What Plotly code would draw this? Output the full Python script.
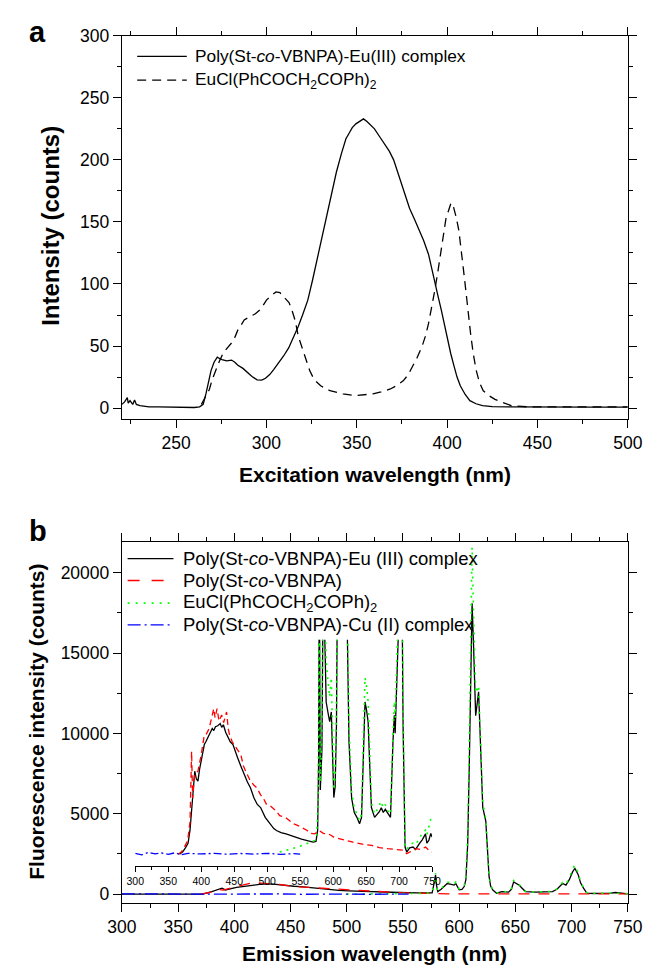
import plotly.graph_objects as go

# ---------------- Panel a : excitation spectra ----------------
exc_nm_eu_poly = [220, 221.5, 223, 223.5, 224.5, 226, 227, 228, 230, 232, 235, 240, 250, 260, 263, 265,
                  266.6, 268, 269.3, 271, 272.8, 274, 275.4, 278, 280.7, 282.5, 284.2, 287, 289.5, 292,
                  294.8, 297.4, 299.5, 301.8, 304, 307, 309.5, 312.3, 315, 317.6, 320, 322.9, 325.5, 328.2,
                  331, 333.5, 336, 338.7, 341.5, 344, 346, 347.5, 349.5, 351.5, 353.7, 355.5, 357.5, 359.8,
                  362.5, 365.1, 368, 370.4, 372, 373.9, 376.5, 379.2, 382, 384.5, 387, 389.7, 391.5, 393.2,
                  395, 396.8, 398.5, 400.3, 402, 403.8, 405.5, 407.3, 410, 412.6, 416, 419.6, 425, 433.7,
                  446, 460, 480, 500]
exc_eu_poly = [3, 5, 8.5, 4, 6, 3, 6.5, 3, 2, 1.5, 1, 1, 0.5, 0.5, 1, 3,
               12, 22, 30, 37, 41, 40, 39, 38, 38.7, 37, 34.5, 32, 28.6, 25.5,
               22.8, 22.5, 24, 27, 31, 36.6, 42, 48.5, 57, 65.8, 75, 87, 103, 121,
               140, 156, 173, 190, 205, 217, 222, 226, 229, 231, 233, 231, 228, 225,
               219, 213, 207, 200, 193, 185, 173, 161, 152, 144, 135, 124, 112, 100,
               90, 79, 67, 55, 44, 34, 25, 18, 11, 6, 3.5, 2, 1.2, 1,
               0.8, 0.8, 0.8, 0.8]

exc_nm_eucl = [264, 266, 268.4, 270, 271.9, 274, 276.3, 278.5, 280.7, 282.5, 284.2, 286, 287.7, 290,
               293.9, 297, 300, 303, 305.3, 307.5, 309, 310.6, 312.5, 314.1, 316, 317.6, 320, 322, 324,
               326.4, 330, 335.2, 342.3, 349.3, 354.6, 359, 363.4, 368.6, 372, 375.7, 378.5, 381, 383.5,
               386.2, 388, 389.7, 391.5, 393.2, 395, 396.8, 398, 399.4, 401, 402.1, 403, 403.8, 405,
               406.5, 408, 409.1, 410.5, 411.7, 413, 414.4, 416, 417.9, 420, 423.2, 426.5, 430.2, 435.5,
               445, 460, 480, 500]
exc_eucl = [3, 8, 15, 23, 31, 38, 45, 49, 52.5, 57, 63, 67, 71, 73,
            76, 80, 87, 91, 93.6, 93, 90, 88, 85, 79, 70, 58, 48, 38, 30,
            23, 18, 14, 11.4, 10, 10.6, 11.5, 13, 15.4, 18, 22, 27, 34, 41,
            50, 58, 68, 81, 95, 111, 127, 140, 153, 160, 165, 165, 161, 154,
            143, 127, 111, 93, 76, 60, 44.6, 31, 20.7, 14, 10, 7, 4.8, 2,
            1, 1, 1, 1]

# ---------------- Panel b : emission spectra (main) ----------------
em_nm_eu_poly = [300, 320, 340, 360, 372, 380, 385, 389, 392, 396, 402, 410.6, 418, 425.8, 434.8, 441,
                 447, 453, 459, 465, 471, 478, 486, 493, 501.5, 515, 531.8, 547, 562, 572, 576, 577.5,
                 579, 580, 581, 584, 587, 589.4, 592, 595.5, 597, 600, 602.5, 604.5, 606, 607.6, 609,
                 610.2, 611.5, 612.8, 614.7, 617.3, 619, 621, 623.7, 625, 626.6, 628, 630, 633.3, 638,
                 644, 646.5, 648.5, 651.5, 653.5, 656, 659, 668, 675, 683, 687, 689, 692, 695, 698, 701,
                 703, 706, 708, 710.6, 713.6, 720, 728.7, 735, 739, 745, 750]
em_eu_poly = [0, 0, 0, 0, 0, 150, 300, 370, 260, 330, 420, 500, 580, 640, 620, 560,
              510, 490, 470, 420, 370, 310, 260, 230, 200, 160, 120, 100, 80, 65, 80, 600,
              1200, 500, 160, 300, 500, 660, 620, 560, 660, 270, 300, 470, 900, 3100, 8000,
              12500, 18100, 15500, 11100, 12600, 9500, 5400, 4550, 3000, 1100, 500, 250, 60, 160,
              120, 300, 760, 660, 550, 370, 160, 120, 140, 160, 300, 470, 660, 560, 900, 1400,
              1600, 1190, 700, 370, 60, 40, 40, 60, 100, 40, 20]

em_nm_poly = [370, 378, 385, 390, 395, 405, 416.6, 424, 431.8, 440, 456, 470, 486, 500, 516.6, 530,
              541, 552, 562, 575, 590, 610, 640, 680, 720, 750]
em_poly = [0, 100, 300, 250, 350, 500, 720, 680, 640, 600, 460, 400, 330, 260, 180, 140,
           110, 80, 60, 30, 20, 10, 10, 10, 10, 10]

em_nm_eucl = [500, 540, 570, 576, 577.5, 579, 580, 581, 584, 587, 589.4, 592, 595.5, 597, 600, 602.5,
              604.5, 606, 607.6, 609, 610.2, 611.5, 612.8, 614.7, 617.3, 619, 621, 623.7, 625, 626.6,
              628, 630, 633.3, 638, 644, 646.5, 648.5, 651.5, 653.5, 656, 659, 668, 675, 683, 687,
              689, 692, 695, 698, 701, 703, 706, 708, 710.6, 713.6, 720, 735, 750]
em_eucl = [0, 20, 50, 100, 700, 1300, 500, 200, 350, 550, 750, 700, 620, 750, 320, 350,
           550, 1100, 3800, 9500, 15000, 21600, 17500, 12500, 13000, 9800, 5700, 4700, 3100, 1200,
           550, 260, 70, 170, 130, 350, 850, 720, 600, 400, 170, 130, 150, 170, 330,
           520, 720, 610, 1000, 1600, 1800, 1300, 750, 400, 70, 50, 70, 30]

em_nm_cu = [300, 320, 340, 360, 380, 400, 420, 440, 460, 480, 500, 520, 540, 555]
em_cu = [10, -10, 10, 0, 10, -10, 0, 10, -10, 10, 0, -10, 10, 0]

# ---------------- Inset (magnified emission spectra) ----------------
ins_nm_eu_poly = [367, 372, 376, 380, 383, 385.5, 387.8, 390.2, 392.5, 395, 397.5, 399.9, 402, 404.7, 407,
                  409.5, 413, 416.7, 419, 421.6, 425, 428.8, 431, 433.6, 437, 440.9, 444, 448.1, 452,
                  455.3, 460, 465, 470, 474.6, 480, 485, 490, 497, 504.5, 510, 514, 521, 528.6, 536,
                  543, 552, 562, 569.5, 574, 576.5, 578, 579, 580.5, 583, 585, 587, 589.4, 592.8, 594.7,
                  597.2, 599, 601, 603, 605, 607, 612, 618, 621, 624, 628, 632, 636, 640, 643, 645,
                  648.3, 650.5, 653, 655, 658, 662.8, 667, 670, 673, 676, 679, 683, 686.9, 690.7, 692.7,
                  694, 696, 699, 703.7, 706, 707.5, 709, 711.5, 716, 721, 725, 730.7, 735, 740, 742,
                  745, 748, 750]
ins_eu_poly = [0, 150, 400, 680, 1500, 2900, 3800, 5170, 4700, 4550, 5300, 5780, 6400, 6830, 7000,
               7220, 7600, 7830, 7700, 7940, 8000, 8140, 7900, 8060, 7600, 7220, 7000, 6830, 6300,
               5990, 5500, 4960, 4500, 4140, 3500, 3100, 2910, 2300, 1890, 1600, 1480, 1350, 1270, 1150,
               1070, 950, 860, 760, 800, 1500, 6000, 18000, 4000, 6500, 18000, 14000, 9480, 8670, 8250,
               8860, 6000, 3530, 4200, 8000, 20000, 40000, 26000, 15000, 7000, 3500, 2600, 2300, 1900, 2300, 5000,
               9480, 9000, 8250, 6000, 2910, 2300, 2500, 2650, 2900, 2600, 2800, 2500, 2300, 7020, 8650,
               7530, 11000, 20000, 20000, 8000, 2500, 450, 140, 400, 450, 300, 660, 900, 1270, 700,
               860, 1300, 1070]

ins_nm_poly = [365, 369.8, 374, 379.4, 383, 385.4, 387, 390, 395, 400, 404.7, 408, 412, 416, 419, 421,
               424, 427, 431, 434, 438.4, 441, 443, 447, 450.5, 455, 460, 464, 467.4, 471, 474.6, 480,
               484.3, 490, 494, 498.8, 505, 513.2, 519, 527.7, 533.4, 540, 546, 552.7, 560, 566, 572,
               579, 585, 591, 596, 600.8, 610, 620, 630, 639, 648, 658.6, 670, 682.6, 695, 706.7,
               711.5, 718, 726, 733, 740, 745, 750]
ins_poly = [0, 140, 400, 860, 2000, 6400, 3500, 5000, 5170, 6200, 7440, 7500, 7830, 8500, 9060, 8500,
            9060, 8300, 8670, 8200, 8860, 7800, 7430, 7000, 6810, 6500, 6200, 5500, 5170, 4800, 4550, 4300,
            4140, 3700, 3500, 3120, 3000, 2710, 2400, 2300, 2090, 1900, 1800, 1680, 1500, 1300, 1270,
            1480, 1300, 1270, 1200, 1070, 950, 860, 750, 660, 600, 550, 420, 350, 300, 250,
            40, 200, 350, 300, 450, 250, 140]

ins_nm_eucl = [519, 530, 540, 550, 560, 572, 575, 577, 578, 579, 580.5, 583, 585, 587, 589.4, 592.8,
               594.7, 597.2, 599, 601, 603, 605, 607, 612, 618, 621, 624, 628, 632, 636, 640, 643, 645,
               648.3, 650.5, 653, 655, 658, 662.8, 667, 670, 672, 676, 679, 683, 686.9, 690.7, 692.7,
               694, 696, 699, 703.7, 706, 707.5, 709, 711.5, 716, 721, 725, 730.7, 735, 740, 742, 745,
               748, 750]
ins_eucl = [140, 250, 380, 500, 650, 860, 1200, 3000, 8000, 20000, 4500, 7500, 20000, 16000, 12000, 10500,
            9800, 11000, 7000, 4000, 4800, 9000, 22000, 45000, 30000, 17000, 8000, 3900, 2900, 2500, 2100, 2500, 5800,
            11000, 10500, 9500, 7000, 3200, 2500, 2800, 3000, 3300, 2900, 3100, 2700, 2500, 7800, 9500,
            8500, 12500, 22000, 22000, 9000, 3000, 600, 300, 600, 700, 600, 1000, 1300, 1500, 1200, 1700,
            2200, 1900]

ins_nm_cu = [300, 310, 320, 330, 340, 350, 360, 370, 380, 400, 420, 440, 460, 480, 500, 520, 540, 550]
ins_cu = [60, -40, 120, 20, 80, 0, 90, -30, 60, 20, 60, 0, 50, 10, 60, 0, 40, 10]

# ---------------- labels ----------------
name_a1 = "Poly(St-<i>co</i>-VBNPA)-Eu(III) complex"
name_a2 = "EuCl(PhCOCH<sub>2</sub>COPh)<sub>2</sub>"
name_b1 = "Poly(St-<i>co</i>-VBNPA)-Eu (III) complex"
name_b2 = "Poly(St-<i>co</i>-VBNPA)"
name_b3 = "EuCl(PhCOCH<sub>2</sub>COPh)<sub>2</sub>"
name_b4 = "Poly(St-<i>co</i>-VBNPA)-Cu (II) complex"

FONT = "Liberation Sans, Arial, Helvetica, sans-serif"
W, H = 659, 966


def px(x):
    return x / W


def py(y):
    return 1 - y / H


BLACK = "#000000"
RED = "#ff0000"
GREEN = "#00ff00"
BLUE = "#0000ff"
LW = 1.3

DASH_A2 = "9px,6px"
DASH_RED = "11px,9px"
DASH_GREEN = "2px,6px"
DASH_BLUE = "13px,4px,2px,4px"

fig = go.Figure()

# panel a
fig.add_trace(go.Scatter(x=exc_nm_eu_poly, y=exc_eu_poly, mode="lines", name=name_a1,
                         line=dict(color=BLACK, width=LW), xaxis="x", yaxis="y", showlegend=False))
fig.add_trace(go.Scatter(x=exc_nm_eucl, y=exc_eucl, mode="lines", name=name_a2,
                         line=dict(color=BLACK, width=LW, dash=DASH_A2), xaxis="x", yaxis="y",
                         showlegend=False))

# panel b main
styles_b = [
    (em_nm_eu_poly, em_eu_poly, name_b1, dict(color=BLACK, width=LW)),
    (em_nm_poly, em_poly, name_b2, dict(color=RED, width=LW, dash=DASH_RED)),
    (em_nm_eucl, em_eucl, name_b3, dict(color=GREEN, width=LW + 0.3, dash=DASH_GREEN)),
    (em_nm_cu, em_cu, name_b4, dict(color=BLUE, width=LW, dash=DASH_BLUE)),
]
for xs, ys, nm, ln in styles_b:
    fig.add_trace(go.Scatter(x=xs, y=ys, mode="lines", name=nm, line=ln,
                             xaxis="x2", yaxis="y2", showlegend=False))

# inset
styles_i = [
    (ins_nm_eu_poly, ins_eu_poly, name_b1, dict(color=BLACK, width=LW)),
    (ins_nm_poly, ins_poly, name_b2, dict(color=RED, width=LW, dash="6px,4px")),
    (ins_nm_eucl, ins_eucl, name_b3, dict(color=GREEN, width=LW + 0.3, dash="2px,5px")),
    (ins_nm_cu, ins_cu, name_b4, dict(color=BLUE, width=LW, dash="8px,3px,2px,3px")),
]
for xs, ys, nm, ln in styles_i:
    fig.add_trace(go.Scatter(x=xs, y=ys, mode="lines", name=nm, line=ln, showlegend=False,
                             xaxis="x3", yaxis="y3"))

TICK_SIZE = 17.5
tickfont = dict(family=FONT, size=TICK_SIZE, color="black")


def main_axis(rng, dtick, mdtick, domain, anchor):
    return dict(range=rng, dtick=dtick, domain=domain, anchor=anchor,
                showline=True, linecolor="black", linewidth=1.2, mirror="ticks",
                ticks="outside", ticklen=8, tickwidth=1.2, tickcolor="black",
                showgrid=False, zeroline=False, tickfont=tickfont, tickformat="d",
                minor=dict(dtick=mdtick, ticks="outside", ticklen=4, tickwidth=1.2,
                           tickcolor="black", showgrid=False),
                fixedrange=True)


xa_dom = [px(112), px(642)]
fig.update_layout(
    width=W, height=H,
    margin=dict(l=0, r=0, t=0, b=0),
    paper_bgcolor="white",
    plot_bgcolor="rgba(0,0,0,0)",
    font=dict(family=FONT, color="black"),
    xaxis=main_axis([220, 500], 50, 25, xa_dom, "y"),
    yaxis=main_axis([-9, 300], 50, 25, [py(414), py(26)], "x"),
    xaxis2=main_axis([300, 750], 50, 25, xa_dom, "y2"),
    yaxis2=main_axis([-535, 21926], 5000, 2500, [py(903), py(538)], "x2"),
    xaxis3=dict(range=[300, 750], dtick=50, domain=[px(126), px(437)], anchor="y3",
                showline=True, linecolor="black", linewidth=1, mirror=False,
                ticks="outside", ticklen=5, tickwidth=1, tickcolor="black",
                showgrid=False, zeroline=False,
                tickfont=dict(family=FONT, size=10.5, color="black"),
                minor=dict(dtick=25, ticks="outside", ticklen=3, tickwidth=1,
                           tickcolor="black", showgrid=False),
                fixedrange=True),
    yaxis3=dict(range=[-738, 13354], domain=[py(866), py(637)], anchor="x3",
                visible=False, fixedrange=True),
    showlegend=False,
)

# ---- key (legend) boxes drawn as line samples + labels ----
legend_a = [
    (name_a1, dict(color=BLACK, width=LW), 47),
    (name_a2, dict(color=BLACK, width=LW, dash=DASH_A2), 71),
]
legend_b = [
    (name_b1, dict(color=BLACK, width=LW), 555),
    (name_b2, dict(color=RED, width=LW + 0.2, dash="12px,12px"), 577),
    (name_b3, dict(color=GREEN, width=LW + 0.6, dash=DASH_GREEN), 600),
    (name_b4, dict(color=BLUE, width=LW, dash=DASH_BLUE), 622),
]
shapes = []
annots = []
for items, x0, x1, xt, fs in [(legend_a, 128, 180, 186, 17.3), (legend_b, 118, 166, 174, 18.5)]:
    for label, ln, yrow in items:
        shapes.append(dict(type="line", xref="paper", yref="paper", x0=px(x0), x1=px(x1),
                           y0=py(yrow), y1=py(yrow), line=ln))
        annots.append(dict(text=label, x=px(xt), y=py(yrow), xanchor="left", yanchor="middle",
                           font=dict(family=FONT, size=fs, color="black")))

title_font = dict(family=FONT, size=21, color="black")
annots += [
    dict(text="<b>a</b>", x=px(24), y=py(22), xanchor="center", yanchor="middle",
         font=dict(family=FONT, size=29, color="black")),
    dict(text="<b>b</b>", x=px(24), y=py(527), xanchor="center", yanchor="middle",
         font=dict(family=FONT, size=29, color="black")),
    dict(text="<b>Excitation wavelength (nm)</b>", x=px(377), y=py(470), xanchor="center",
         yanchor="middle", font=title_font),
    dict(text="<b>Emission wavelength (nm)</b>", x=px(377), y=py(954), xanchor="center",
         yanchor="middle", font=title_font),
    dict(text="<b>Intensity (counts)</b>", x=px(37), y=py(218), textangle=-90,
         xanchor="center", yanchor="middle", font=dict(family=FONT, size=24, color="black")),
    dict(text="<b>Fluorescence intensity (counts)</b>", x=px(23), y=py(720), textangle=-90,
         xanchor="center", yanchor="middle", font=title_font),
]
for a in annots:
    a.update(xref="paper", yref="paper", showarrow=False)
fig.update_layout(annotations=annots, shapes=shapes)

fig.write_html("out.html", config={"displayModeBar": False},
               post_script="document.body.style.margin='0px';")
